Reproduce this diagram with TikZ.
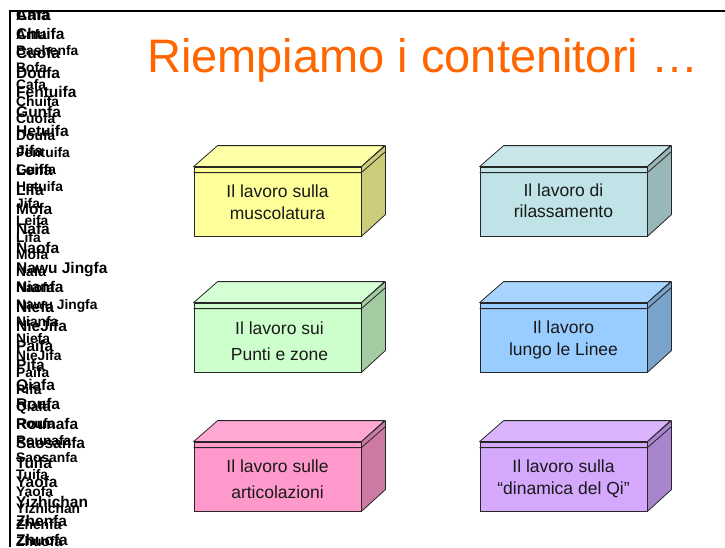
\documentclass[tikz,border=0pt]{standalone}
\usepackage{fontspec}
\setmainfont{Liberation Sans}
\definecolor{titleor}{HTML}{FF6600}
\definecolor{yelF}{HTML}{FFFF99}\definecolor{yelS}{HTML}{CCCC7A}
\definecolor{cyaF}{HTML}{BFE3E6}\definecolor{cyaS}{HTML}{99B6B9}
\definecolor{greF}{HTML}{CCFFCC}\definecolor{greS}{HTML}{A3CCA3}
\definecolor{bluF}{HTML}{99CCFF}\definecolor{bluS}{HTML}{7AA3CC}
\definecolor{pinF}{HTML}{FF99CC}\definecolor{pinS}{HTML}{CC7AA3}
\definecolor{purF}{HTML}{D4A8FD}\definecolor{purS}{HTML}{A885CC}
\tikzset{
  frontface/.style={draw=black!85, line width=0.8pt, minimum width=167pt, minimum height=69pt, inner sep=0pt},
  boxline/.style={draw=black!85, line width=0.8pt, line join=round},
  boxtext/.style={font=\fontsize{17.5}{20}\selectfont, text=black!90, inner sep=0pt, anchor=base},
  titletext/.style={font=\fontsize{47}{50}\selectfont, text=titleor, inner sep=0pt, anchor=base west},
  listY/.style={font=\bfseries\fontsize{15.5}{17}\selectfont, inner sep=0pt, anchor=base west},
  listX/.style={font=\bfseries\fontsize{13.8}{15}\selectfont, inner sep=0pt, anchor=base west},
  frameline/.style={line width=2pt, black}
}
\newcommand\cubebox[4]{% name, x0, y0, colour prefix
  \node[frontface, fill=#4F] (#1) at (#2+83.5,#3+34.5) {};
  \draw[boxline, fill=#4F!85!white] (#1.north west) -- ++(24,-21) -- ++(167,0) -- (#1.north east) -- cycle;
  \draw[boxline, fill=#4S] (#1.north east) -- ++(24,-21) -- ++(0,69) -- (#1.south east) -- cycle;
  \draw[boxline] ([yshift=-6pt]#1.north west) -- ([yshift=-6pt]#1.north east) -- ++(24,-21);
}
\begin{document}
\begin{tikzpicture}[x=1pt,y=-1pt]
\useasboundingbox (0,0) rectangle (725,547);
% frame
\draw[frameline] (9.5,547) -- (9.5,11) -- (725,11);
% overlapping lists
\begin{scope}
\clip (10.5,12) rectangle (725,547);
\foreach \t [count=\i from 0] in {Anfa,Bashenfa,Bofa,Cafa,Chuifa,Cuofa,Doufa,Fentuifa,Gunfa,Hetuifa,Jifa,Leifa,Lifa,Mofa,Nafa,Naofa,Nawu Jingfa,Nianfa,Niefa,NieJifa,Paifa,Pifa,Qiafa,Roufa,Rounafa,Saosanfa,Tuifa,Yaofa,Yizhichan,Zhenfa,Zhuofa}{
  \ifnum\i>2 \node[listY] (y\i) at (16,{20+(\i-3)*19.48}) {\t};\fi
  \node[listX] (x\i) at (16,{39+\i*16.93}) {\t};
}
\node[listY] (ytop) at (16,20) {Anfa};
\end{scope}
% title
\node[titletext] (title) at (147,72) {Riempiamo i contenitori …};
% boxes
\cubebox{b1}{194}{167}{yel}
\cubebox{b2}{480}{167}{cya}
\cubebox{b3}{194}{303}{gre}
\cubebox{b4}{480}{303}{blu}
\cubebox{b5}{194}{442}{pin}
\cubebox{b6}{480}{442}{pur}
% texts
\node[boxtext] (t1a) at (277.5,197.7) {Il lavoro sulla};
\node[boxtext] (t1b) at (277.5,219) {muscolatura};
\node[boxtext] (t2a) at (563.5,196.7) {Il lavoro di};
\node[boxtext] (t2b) at (563.5,217.5) {rilassamento};
\node[boxtext] (t3a) at (279.5,334.3) {Il lavoro sui};
\node[boxtext] (t3b) at (279.5,360.7) {Punti e zone};
\node[boxtext] (t4a) at (563.5,333) {Il lavoro};
\node[boxtext] (t4b) at (563.5,355) {lungo le Linee};
\node[boxtext] (t5a) at (277.5,472) {Il lavoro sulle};
\node[boxtext] (t5b) at (277.5,498.5) {articolazioni};
\node[boxtext] (t6a) at (563.5,472.5) {Il lavoro sulla};
\node[boxtext] (t6b) at (563.5,494) {“dinamica del Qi”};
\end{tikzpicture}
\end{document}
